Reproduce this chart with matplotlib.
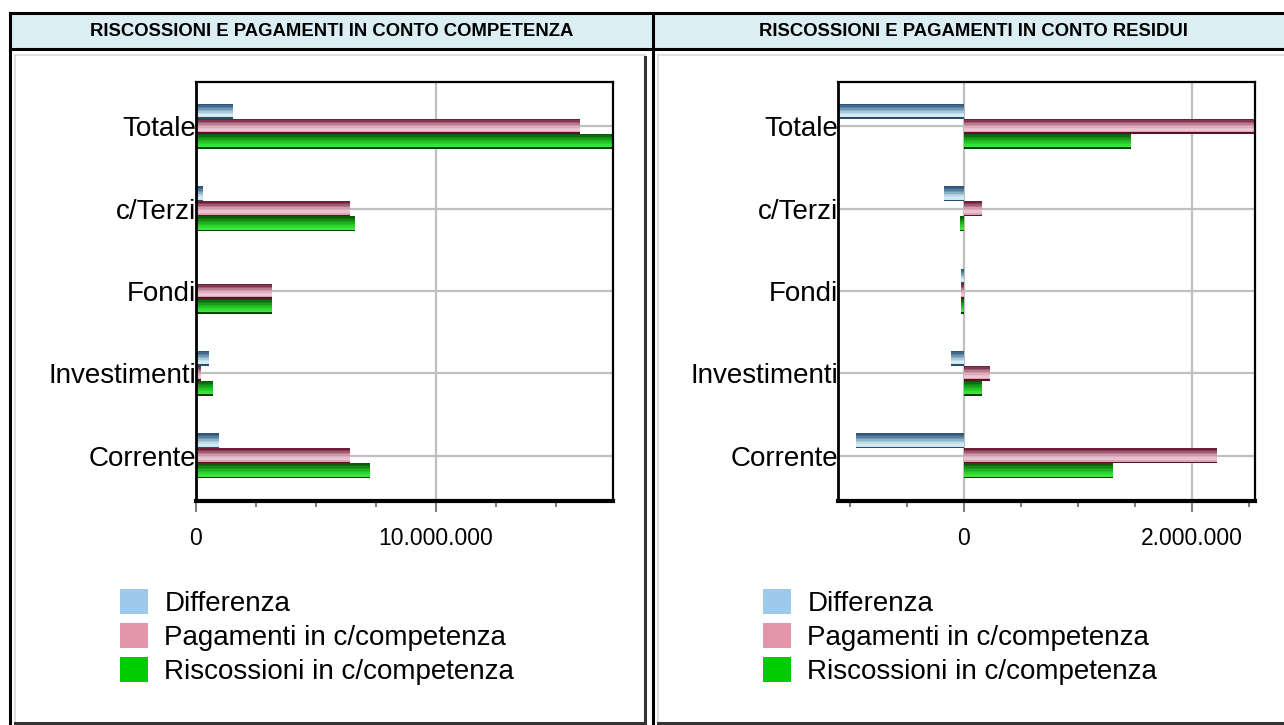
import matplotlib
matplotlib.use('Agg')
import matplotlib.pyplot as plt
from matplotlib.patches import Rectangle, Patch
from matplotlib.lines import Line2D
from matplotlib.ticker import FixedLocator, MultipleLocator, FuncFormatter
import numpy as np

plt.rcParams['font.family'] = ['Liberation Sans', 'DejaVu Sans']

W, H = 1284, 725

categorie = ['Corrente', 'Investimenti', 'Fondi', 'c/Terzi', 'Totale']
serie = ['Differenza', 'Pagamenti in c/competenza', 'Riscossioni in c/competenza']
titoli = ['RISCOSSIONI E PAGAMENTI IN CONTO COMPETENZA',
          'RISCOSSIONI E PAGAMENTI IN CONTO RESIDUI']

# conto competenza
comp_differenza = [960000, 540000, 30000, 300000, 1540000]
comp_pagamenti = [6420000, 200000, 3170000, 6420000, 16000000]
comp_riscossioni = [7250000, 710000, 3170000, 6630000, 17600000]

# conto residui
res_differenza = [-950000, -110000, -25000, -170000, -1130000]
res_pagamenti = [2220000, 226000, -25000, 158000, 2600000]
res_riscossioni = [1310000, 158000, -25000, -30000, 1470000]

# sfumature delle barre (dall'alto in basso)
blu = ['#2f5878', '#3f6a8a', '#56809e', '#6f98b4', '#8cb2c8',
       '#a8c9da', '#c2dde8', '#d4ecf2', '#cfe8f0', '#2a4f6e']
rosa = ['#6e2038', '#86384f', '#a05a70', '#b87c90', '#cc98aa',
        '#dcaebd', '#e8bfcc', '#eec6d2', '#dba4b5', '#5a1028']
verde = ['#0a5a0a', '#0e6e0e', '#138613', '#199c19', '#20b020',
         '#27c227', '#2ed22e', '#36e036', '#3ee83e', '#034003']
colori_legenda = ['#9dc9ec', '#e396a8', '#00cc00']


def px(x, y):
    return x / W, 1 - y / H


def linea(x0, y0, x1, y1, colore='black', lw=2.2):
    a, b = px(x0, y0)
    c, d = px(x1, y1)
    fig.add_artist(Line2D([a, c], [b, d], color=colore, lw=lw,
                          transform=fig.transFigure, solid_capstyle='projecting'))


def barre(ax, pos, valori, off, colori, h):
    n = len(colori)
    for k, c in enumerate(colori):
        y = pos + off + h / 2 - (k + 0.5) * h / n
        ax.barh(y, valori, height=h / n, color=c, linewidth=0)


def formato(v, p):
    return f'{v:,.0f}'.replace(',', '.')


fig = plt.figure(figsize=(W / 100, H / 100), dpi=100)

# cornice tipo tabella
x0, y0 = px(10, 49)
fig.add_artist(Rectangle((x0, y0), 1274 / W, 36 / H, transform=fig.transFigure,
                         facecolor='#daeef3', edgecolor='none'))
linea(10, 13, 1284, 13)
linea(10, 49, 1284, 49)
linea(10, 13, 10, 725)
linea(653, 13, 653, 725)
# pannello sinistro
linea(15, 55, 645, 55, '#d9d9d9', 1.2)
linea(15, 55, 15, 723, '#d9d9d9', 1.2)
linea(645, 57, 645, 723, '#333333', 2.2)
linea(15, 723, 645, 723, '#333333', 2.2)
# pannello destro
linea(658, 55, 1284, 55, '#d9d9d9', 1.2)
linea(658, 55, 658, 723, '#d9d9d9', 1.2)
linea(658, 723, 1284, 723, '#333333', 2.2)

fig.text(332 / W, 1 - 31 / H, titoli[0], ha='center', va='center',
         fontsize=13.3, fontweight='bold')
fig.text(973 / W, 1 - 31 / H, titoli[1], ha='center', va='center',
         fontsize=13.3, fontweight='bold')


def pannello(left, dati, xlim, major, minor, leg_x):
    ax = fig.add_axes([left / W, 1 - 501 / H, 417 / W, 419 / H])
    pos = np.arange(len(categorie))
    h = 0.182
    barre(ax, pos, dati[0], h, blu, h)
    barre(ax, pos, dati[1], 0, rosa, h)
    barre(ax, pos, dati[2], -h, verde, h)
    ax.set_xlim(xlim)
    ax.set_ylim(-0.55, 4.54)
    ax.set_yticks(pos, categorie)
    ax.xaxis.set_major_locator(FixedLocator(major))
    ax.xaxis.set_minor_locator(MultipleLocator(minor))
    ax.xaxis.set_major_formatter(FuncFormatter(formato))
    ax.grid(True, color='#c0c0c0', lw=1.6)
    ax.set_axisbelow(True)
    ax.tick_params(axis='y', length=0, pad=0, labelsize=20)
    ax.tick_params(axis='x', which='major', length=8, width=1.5,
                   color='#808080', labelsize=16.5, pad=11)
    ax.tick_params(axis='x', which='minor', length=4.5, width=1.5, color='#808080')
    for s in ax.spines.values():
        s.set_color('black')
        s.set_linewidth(1.6)
    ax.spines['bottom'].set_linewidth(3)
    ax.spines['left'].set_linewidth(2)
    handles = [Patch(facecolor=c, edgecolor='none') for c in colori_legenda]
    ax.legend(handles, serie, loc='upper left', bbox_to_anchor=px(leg_x, 589),
              bbox_transform=fig.transFigure, frameon=False, fontsize=20,
              handlelength=1.0, handleheight=1.0, handletextpad=0.6,
              labelspacing=0.22, borderpad=0, borderaxespad=0)
    return ax


pannello(196, [comp_differenza, comp_pagamenti, comp_riscossioni],
         (0, 17380000), [0, 10000000], 2500000, 120)
pannello(838, [res_differenza, res_pagamenti, res_riscossioni],
         (-1105000, 2557000), [0, 2000000], 500000, 763)

fig.savefig('out.png', dpi=100)
